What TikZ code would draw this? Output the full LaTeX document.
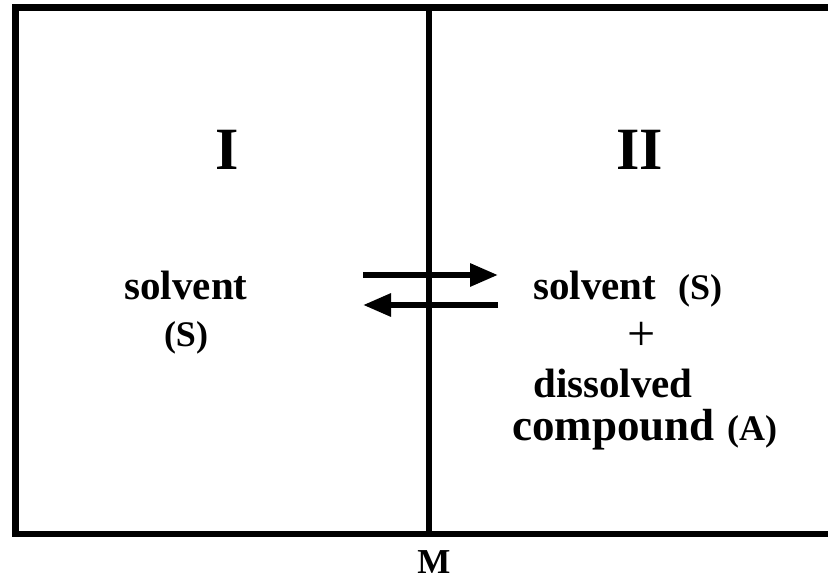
\documentclass[tikz,border=0pt]{standalone}
\usepackage{fontspec}
\setmainfont{Liberation Serif}
\usetikzlibrary{arrows.meta}
\begin{document}
\begin{tikzpicture}[x=1pt,y=-1pt,
  wall/.style={line width=6.5pt},
  flow/.style={line width=6pt,-{Triangle[length=28pt,width=22pt]}},
  lbl/.style={inner sep=0pt,anchor=base,font=\bfseries\fontsize{41}{48}\selectfont},
  par/.style={inner sep=0pt,anchor=base,font=\bfseries\fontsize{36}{42}\selectfont},
  big/.style={inner sep=0pt,anchor=base,font=\bfseries\fontsize{60}{70}\selectfont}]
\useasboundingbox (0,0) rectangle (828,580);
\coordinate (tr) at (828,7.5);
\coordinate (br) at (828,534);
\coordinate (tl) at (15.5,7.5);
\coordinate (bl) at (15.5,534);
\coordinate (mt) at (429,7.5);
\coordinate (mb) at (429,534);
\draw[wall,line join=miter] (tr) -- (tl) -- (bl) -- (br);
\draw[wall] (mt) -- (mb);
\coordinate (a1s) at (363,275);
\coordinate (a1e) at (498,275);
\coordinate (a2s) at (498,305);
\coordinate (a2e) at (363,305);
\draw[flow] (a1s) -- (a1e);
\draw[flow] (a2s) -- (a2e);
\node[big] (I) at (227,170) {I};
\node[big] (II) at (640,170) {II};
\node[lbl] (sl) at (186,300) {solvent};
\node[par] (slS) at (186,347) {(S)};
\node[lbl,anchor=base west] (sr) at (533,300) {solvent};
\node[par,anchor=base west] (srS) at (678,300) {(S)};
\node[inner sep=0pt,font=\fontsize{50}{56}\selectfont] (plus) at (642,336) {+};
\node[lbl,anchor=base west] (dis) at (533,397) {dissolved};
\node[lbl,anchor=base west,font=\bfseries\fontsize{45}{50}\selectfont] (comp) at (512,440) {compound};
\node[par,anchor=base west] (A) at (727,440) {(A)};
\node[inner sep=0pt,anchor=base,font=\bfseries\fontsize{35}{40}\selectfont] (M) at (434,573) {M};
\end{tikzpicture}
\end{document}
